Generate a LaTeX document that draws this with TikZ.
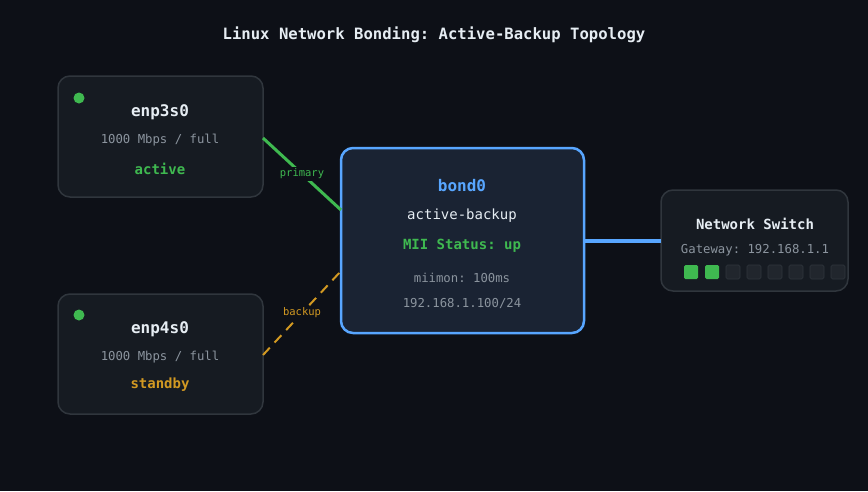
\documentclass[tikz,border=0pt]{standalone}
\usepackage{fontspec}
\setmonofont{DejaVu Sans Mono}
\begin{document}
\begin{tikzpicture}[x=1pt,y=-1pt,
  box/.style={draw=boxline,fill=boxfill,rounded corners=12pt,line width=1.5pt},
  t/.style={font=\ttfamily\fontsize{12.3}{13}\selectfont,text=#1},
  tb/.style={font=\ttfamily\bfseries\fontsize{16}{17}\selectfont,text=#1},
  sb/.style={font=\ttfamily\bfseries\fontsize{14}{15}\selectfont,text=#1},
  lab/.style={fill=bg,inner sep=2pt,font=\ttfamily\fontsize{10.5}{11}\selectfont,text=#1},
  port/.style={rounded corners=1.5pt,minimum size=14pt,inner sep=0pt}]
\definecolor{bg}{HTML}{0D1017}
\definecolor{boxfill}{HTML}{161B22}
\definecolor{boxline}{HTML}{30363D}
\definecolor{bondfill}{HTML}{1A2333}
\definecolor{blue}{HTML}{58A6FF}
\definecolor{grn}{HTML}{3FB950}
\definecolor{org}{HTML}{D29922}
\definecolor{wht}{HTML}{E6EDF3}
\definecolor{gry}{HTML}{8B949E}
\definecolor{portoff}{HTML}{21262D}
\fill[bg] (0,0) rectangle (868,491);
\useasboundingbox (0,0) rectangle (868,491);
\node[tb=wht,font=\ttfamily\bfseries\fontsize{15.6}{17}\selectfont] (title) at (434,35) {Linux Network Bonding: Active-Backup Topology};
% enp3s0
\draw[box] (58,76) rectangle (263,197);
\coordinate (a) at (263,138);
\fill[grn] (79,98) circle (5.5);
\node[tb=wht] (n1) at (160,112) {enp3s0};
\node[t=gry] (s1) at (160,140) {1000 Mbps / full};
\node[sb=grn] (st1) at (160,169) {active};
% enp4s0
\draw[box] (58,294) rectangle (263,414);
\coordinate (b) at (263,355);
\fill[grn] (79,315) circle (5.5);
\node[tb=wht] (n2) at (160,329) {enp4s0};
\node[t=gry] (s2) at (160,357) {1000 Mbps / full};
\node[sb=org] (st2) at (160,385) {standby};
% bond0
\draw[draw=blue,fill=bondfill,rounded corners=12pt,line width=2.5pt] (341,148) rectangle (584,333);
\coordinate (c1) at (341,210);
\coordinate (c2) at (341,271);
\coordinate (c3) at (584,241);
\node[tb=blue] (bn) at (462,186) {bond0};
\node[t=wht,font=\ttfamily\fontsize{14}{15}\selectfont] (bm) at (462,216) {active-backup};
\node[sb=grn] (bs) at (462,246) {MII Status: up};
\node[t=gry] (bmi) at (462,278) {miimon: 100ms};
\node[t=gry] (bip) at (462,303) {192.168.1.100/24};
% switch
\draw[box] (661,190) rectangle (848,291);
\coordinate (d) at (661,241);
\node[sb=wht] (sw) at (755,224) {Network Switch};
\node[t=gry] (gw) at (755,250) {Gateway: 192.168.1.1};
\foreach \i in {0,...,7}{
  \ifnum\i<2 \node[port,fill=grn] (p\i) at (691+21*\i,272) {};
  \else \node[port,fill=portoff,draw=boxline,line width=0.6pt] (p\i) at (691+21*\i,272) {}; \fi}
% links
\draw[grn,line width=3pt] (a) -- node[lab=grn,pos=0.5] (lp) {primary} (c1);
\draw[org,line width=2pt,dash pattern=on 10pt off 7pt] (b) -- node[lab=org,pos=0.5] (lb) {backup} (c2);
\draw[blue,line width=3.5pt] (c3) -- (d);
\end{tikzpicture}
\end{document}
